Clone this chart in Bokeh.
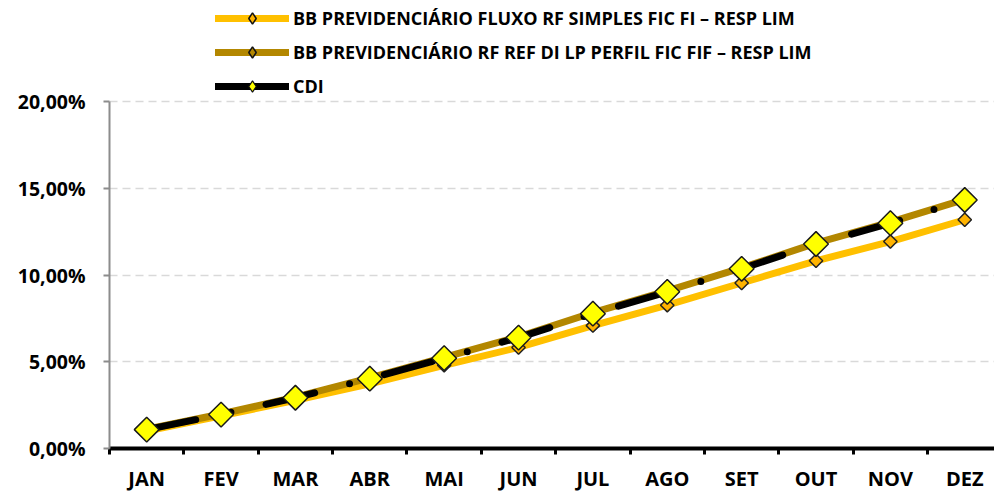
import math
from bokeh.plotting import figure
from bokeh.models import (ColumnDataSource, Range1d, FixedTicker, Legend, LegendItem)
from bokeh.embed import file_html
from bokeh.resources import INLINE

months = ["JAN", "FEV", "MAR", "ABR", "MAI", "JUN", "JUL", "AGO", "SET", "OUT", "NOV", "DEZ"]
fluxo = [1.00, 1.88, 2.78, 3.73, 4.80, 5.83, 7.09, 8.27, 9.55, 10.83, 11.94, 13.20]
perfil = [1.11, 1.99, 2.96, 4.08, 5.26, 6.45, 7.84, 9.10, 10.42, 11.85, 13.06, 14.38]
cdi = [1.09, 1.96, 2.93, 4.03, 5.21, 6.40, 7.78, 9.04, 10.37, 11.80, 13.00, 14.34]
y_ticks = [0, 5, 10, 15, 20]
y_tick_labels = ["0,00%", "5,00%", "10,00%", "15,00%", "20,00%"]
names = ["BB PREVIDENCIÁRIO FLUXO RF SIMPLES FIC FI – RESP LIM",
         "BB PREVIDENCIÁRIO RF REF DI LP PERFIL FIC FIF – RESP LIM",
         "CDI"]

x = list(range(1, len(months) + 1))
src = ColumnDataSource(dict(x=x, fluxo=fluxo, perfil=perfil, cdi=cdi))

FONT = "Open Sans"
C_FLUXO = "#FFC000"
C_FLUXO_MK = "#FFB300"
C_PERFIL = "#B38700"

p = figure(width=994, height=494, output_backend="svg", toolbar_location=None,
           x_range=Range1d(0.5, 12.40), y_range=Range1d(0, 25.85),
           min_border_left=109, min_border_right=0, min_border_top=0, min_border_bottom=43)
p.outline_line_color = None
p.xgrid.visible = False
p.background_fill_color = "white"

# series: line + markers
diamond_angle = math.pi / 4
l1 = p.line("x", "fluxo", source=src, line_color=C_FLUXO, line_width=7, line_cap="round", line_join="round")
m1 = p.scatter("x", "fluxo", source=src, marker="square", angle=diamond_angle, size=9.5,
               fill_color=C_FLUXO_MK, line_color="#222222", line_width=1.5)
l2 = p.line("x", "perfil", source=src, line_color=C_PERFIL, line_width=7, line_cap="round", line_join="round")
m2 = p.scatter("x", "perfil", source=src, marker="square", angle=diamond_angle, size=9.5,
               fill_color=C_PERFIL, line_color="#222222", line_width=1.5)
l3 = p.line("x", "cdi", source=src, line_color="black", line_width=7, line_cap="round",
            line_join="round", line_dash="50 36 0 36")
m3 = p.scatter("x", "cdi", source=src, marker="square", angle=diamond_angle, size=17.5,
               fill_color="#FFFF00", line_color="#1a1a1a", line_width=1.5)

# legend-only glyphs (a single NaN point, nothing drawn in the plot area)
key = ColumnDataSource(dict(x=[float("nan")], y=[float("nan")]))
k1 = p.scatter("x", "y", source=key, marker="diamond", fill_color=C_FLUXO_MK,
               line_color="#111111", line_width=1.5)
k2 = p.scatter("x", "y", source=key, marker="diamond", fill_color=C_PERFIL,
               line_color="#111111", line_width=1.5)
kl3 = p.line("x", "y", source=key, line_color="black", line_width=7, line_cap="round")
k3 = p.scatter("x", "y", source=key, marker="diamond", fill_color="#FFFF00",
               line_color="#111111", line_width=1.2)

legend = Legend(items=[LegendItem(label=names[0], renderers=[l1, k1]),
                       LegendItem(label=names[1], renderers=[l2, k2]),
                       LegendItem(label=names[2], renderers=[kl3, k3])],
                location=(106, 348), orientation="vertical",
                glyph_width=74, glyph_height=28, label_height=28, label_standoff=4,
                spacing=6, padding=0, margin=0,
                border_line_color=None, background_fill_alpha=0,
                label_text_font=FONT, label_text_font_style="bold",
                label_text_font_size="18px", label_text_color="black")
p.add_layout(legend)

# x axis
p.xaxis.ticker = FixedTicker(ticks=x, minor_ticks=[i + 0.5 for i in range(0, 13)])
p.xaxis.major_label_overrides = {i: m for i, m in zip(x, months)}
p.xaxis.axis_line_color = "black"
p.xaxis.axis_line_width = 4
p.xaxis.major_tick_line_color = None
p.xaxis.major_tick_out = 0
p.xaxis.major_tick_in = 0
p.xaxis.minor_tick_line_color = "black"
p.xaxis.minor_tick_line_width = 3
p.xaxis.minor_tick_out = 6
p.xaxis.minor_tick_in = 0
p.xaxis.major_label_standoff = 10
p.xaxis.major_label_text_font = FONT
p.xaxis.major_label_text_font_style = "bold"
p.xaxis.major_label_text_font_size = "20px"
p.xaxis.major_label_text_color = "black"

# y axis
p.yaxis.ticker = FixedTicker(ticks=y_ticks, minor_ticks=[])
p.yaxis.bounds = (0, 20)
p.yaxis.major_label_overrides = {t: s for t, s in zip(y_ticks, y_tick_labels)}
p.yaxis.axis_line_color = "#8C8C8C"
p.yaxis.axis_line_width = 2
p.yaxis.major_tick_line_color = "#8C8C8C"
p.yaxis.major_tick_line_width = 2
p.yaxis.major_tick_out = 6
p.yaxis.major_tick_in = 0
p.yaxis.major_label_standoff = 18
p.yaxis.major_label_text_font = FONT
p.yaxis.major_label_text_font_style = "bold"
p.yaxis.major_label_text_font_size = "19.5px"
p.yaxis.major_label_text_color = "black"

p.ygrid.ticker = FixedTicker(ticks=y_ticks[1:], minor_ticks=[])
p.ygrid.grid_line_color = "#D9D9D9"
p.ygrid.grid_line_width = 1.5
p.ygrid.grid_line_dash = "8 5"

open("out.html", "w").write(file_html(p, INLINE))
